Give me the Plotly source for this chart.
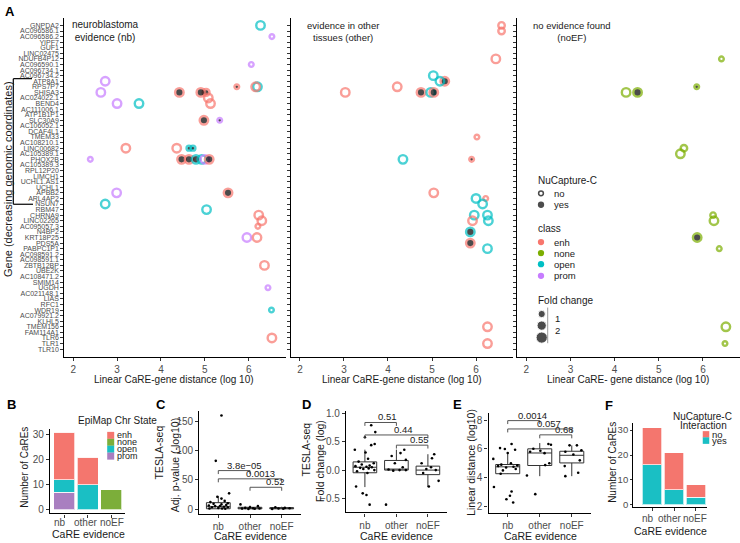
import plotly.graph_objects as go

W, H = 740, 543
FONT = "Liberation Sans, Arial, sans-serif"


def fx(p):
    return p / W


def fy(p):
    return 1 - p / H


# ---------------- data ----------------
GENES = ["GNPDA2", "AC096586.1", "AC096586.2", "YIPF7", "GUF1", "LINC02475", "NDUFB4P12",
         "AC096590.1", "AC096734.1", "AC096734.2", "ATP8A1", "RPS7P7", "SHISA3", "AC024022.1",
         "BEND4", "AC111006.1", "ATP1B1P1", "SLC30A9", "AC106052.1", "DCAF4L1", "TMEM33",
         "AC108210.1", "LINC00682", "AC105389.1", "PHOX2B", "AC105389.3", "RPL12P20", "LIMCH1",
         "UCHL1.AS1", "UCHL1", "APBB2", "ARL4AP2", "NSUN7", "RBM47", "CHRNA9", "LINC02265",
         "AC095057.3", "N4BP2", "KRT18P25", "PDS5A", "PABPC1P1", "AC098591.2", "AC098591.1",
         "ZBTB12BP", "UBE2K", "AC108471.2", "SMIM14", "UGDH", "AC021148.1", "LIAS", "RFC1",
         "WDR19", "AC079921.2", "KLHL5", "TMEM156", "FAM114A1", "TLR6", "TLR1", "TLR10"]

CLASSES = ["enh", "none", "open", "prom"]
CLASS_COLORS = {"enh": "#F8766D", "none": "#7CAE00", "open": "#00BFC4", "prom": "#C77CFF"}
BAR_COLORS = {"enh": "#F4766E", "none": "#7CAE3A", "open": "#1ABFC4", "prom": "#A97FC0"}

# neuroblastoma evidence (nb)
nb_gene = ["GNPDA2", "AC096586.2", "AC096590.1", "ATP8A1", "RPS7P7", "RPS7P7", "RPS7P7", "SHISA3",
           "SHISA3", "SHISA3", "SHISA3", "AC024022.1", "BEND4", "BEND4", "BEND4", "SLC30A9",
           "SLC30A9", "LINC00682", "LINC00682", "LINC00682", "LINC00682", "PHOX2B", "PHOX2B",
           "PHOX2B", "PHOX2B", "PHOX2B", "PHOX2B", "PHOX2B", "APBB2", "APBB2", "NSUN7", "RBM47",
           "CHRNA9", "LINC02265", "AC095057.3", "KRT18P25", "KRT18P25", "ZBTB12BP", "UGDH",
           "WDR19", "TLR6"]
nb_dist = [6.27, 6.53, 6.06, 2.73, 6.20, 6.16, 5.73, 2.63, 4.42, 5.03, 4.91, 5.08, 3.00, 3.50, 5.13,
           4.98, 5.34, 3.20, 4.36, 4.64, 4.73, 2.39, 4.47, 4.64, 4.80, 4.93, 5.00, 5.10, 2.99, 5.53,
           2.73, 5.04, 6.23, 6.30, 6.21, 5.96, 6.19, 6.36, 6.44, 6.52, 6.53]
nb_class = ["open", "prom", "prom", "prom", "open", "enh", "enh", "prom", "enh", "enh", "enh", "enh",
            "prom", "open", "enh", "enh", "prom", "enh", "enh", "open", "open", "prom", "enh", "enh",
            "open", "open", "prom", "enh", "prom", "enh", "open", "open", "enh", "enh", "enh", "prom",
            "enh", "enh", "prom", "open", "enh"]
nb_nuc = ["no", "no", "no", "no", "no", "no", "yes", "no", "yes", "yes", "yes", "no", "no", "no", "no",
          "yes", "yes", "no", "no", "yes", "yes", "no", "yes", "yes", "yes", "no", "no", "yes", "no",
          "yes", "no", "no", "no", "no", "no", "no", "no", "no", "no", "no", "no"]
nb_fc = [2.8, 0.9, 0.9, 2.8, 2.8, 2.8, 0.9, 2.8, 2.8, 2.0, 2.8, 2.8, 2.8, 2.8, 2.8, 2.8, 0.9, 2.8, 2.8,
         1.0, 1.0, 0.9, 2.8, 2.8, 2.8, 2.8, 2.8, 2.8, 2.8, 2.8, 2.8, 2.8, 2.8, 2.8, 0.9, 2.8, 2.8, 2.8,
         0.9, 0.9, 2.8]

# evidence in other tissues (other)
ot_gene = ["GNPDA2", "AC096586.1", "NDUFB4P12", "AC096734.2", "ATP8A1", "ATP8A1", "RPS7P7", "SHISA3",
           "SHISA3", "SHISA3", "SHISA3", "TMEM33", "PHOX2B", "PHOX2B", "APBB2", "ARL4AP2", "ARL4AP2",
           "NSUN7", "CHRNA9", "CHRNA9", "LINC02265", "LINC02265", "N4BP2", "PDS5A", "PABPC1P1",
           "TMEM156", "TLR1"]
ot_dist = [6.58, 6.58, 6.45, 5.03, 5.29, 5.18, 4.21, 3.03, 4.75, 4.97, 5.04, 6.02, 4.34, 5.90, 5.04,
           6.00, 6.22, 6.15, 5.96, 6.26, 5.92, 6.28, 5.87, 5.87, 6.26, 6.26, 6.26]
ot_class = ["enh", "enh", "enh", "open", "enh", "open", "enh", "enh", "enh", "open", "enh", "enh",
            "open", "enh", "enh", "open", "enh", "open", "open", "open", "enh", "open", "open", "enh",
            "open", "enh", "enh"]
ot_nuc = ["no", "no", "no", "no", "yes", "no", "no", "no", "yes", "no", "yes", "no", "no", "yes", "no",
          "no", "no", "no", "no", "no", "no", "no", "yes", "yes", "no", "no", "no"]
ot_fc = [1.8, 1.8, 2.8, 2.8, 2.8, 2.8, 2.8, 2.8, 2.8, 2.8, 2.8, 0.9, 2.8, 0.9, 2.8, 2.8, 0.9, 2.8, 2.8,
         2.8, 2.8, 2.8, 2.8, 2.8, 2.8, 2.8, 2.8]

# no evidence found (noEF)
ne_gene = ["NDUFB4P12", "RPS7P7", "SHISA3", "SHISA3", "LINC00682", "AC105389.1", "CHRNA9",
           "LINC02265", "KRT18P25", "PABPC1P1", "TMEM156", "TLR1"]
ne_dist = [6.42, 5.86, 4.26, 4.52, 5.57, 5.49, 6.23, 6.25, 5.87, 6.37, 6.52, 6.50]
ne_class = ["none"] * 12
ne_nuc = ["no", "yes", "no", "yes", "no", "no", "no", "no", "yes", "no", "no", "no"]
ne_fc = [0.9, 0.9, 2.8, 2.8, 1.8, 2.8, 1.3, 2.8, 2.8, 0.9, 2.8, 0.9]

EVIDENCE = ["nb", "other", "noEF"]

# B: EpiMap chromatin state counts
b_counts = {"prom": [7, 0, 0], "open": [5, 10, 0], "enh": [19, 11, 0], "none": [0, 0, 8]}

# C: TESLA-seq adj p-value (-log10)
c_q1 = [0.5, 0.4, 0.4]
c_med = [4.0, 1.5, 1.2]
c_q3 = [11.0, 3.0, 2.5]
c_lo = [0.0, 0.0, 0.0]
c_hi = [22.0, 6.0, 4.0]
c_pts_val = [[161, 83, 27, 21, 18, 14, 12, 10, 9, 8, 7, 6, 5, 5, 4, 3, 3, 2, 1, 1, 0.5],
             [8, 5, 3, 2, 1.5, 1, 0.8, 0.5, 0.3],
             [3, 2, 1.5, 1, 0.5, 0.3]]
c_pts_jit = [[0.1, -0.08, 0.34, -0.03, 0.1, 0.2, -0.25, 0.3, -0.15, 0.1, 0.25, -0.3, 0.05, -0.1, 0.18,
              0.3, -0.2, 0.0, 0.12, -0.28, 0.22],
             [-0.3, 0.25, 0.0, -0.15, 0.1, 0.3, -0.25, 0.15, -0.05],
             [-0.2, 0.1, 0.25, -0.1, 0.05, -0.3]]
c_sig = [(0, 1, 66.2, "3.8e\u221205"), (0, 2, 52.0, "0.0013"), (1, 2, 37.5, "0.52")]

# D: TESLA-seq fold change (log)
d_q1 = [-0.047, 0.0, -0.08]
d_med = [0.05, 0.01, 0.0]
d_q3 = [0.145, 0.17, 0.07]
d_lo = [-0.30, 0.0, -0.30]
d_hi = [0.36, 0.36, 0.28]
d_pts_val = [[0.79, 0.67, 0.58, 0.46, 0.44, 0.36, 0.31, 0.2, 0.15, 0.12, 0.1, 0.08, 0.07, 0.06, 0.05,
              0.04, 0.03, 0.02, 0.0, -0.02, -0.05, -0.29, -0.41, -0.44, -0.61],
             [0.36, 0.3, 0.25, 0.18, 0.12, 0.05, 0.01, 0.0, 0.0, -0.01, -0.61],
             [0.28, 0.21, 0.12, 0.05, 0.02, 0.0, -0.05, -0.19, -0.29]]
d_pts_jit = [[0.2, 0.33, 0.0, 0.31, 0.2, -0.32, 0.02, 0.1, -0.2, 0.28, -0.1, 0.15, -0.3, 0.05, 0.22,
              -0.15, 0.12, -0.05, 0.3, -0.25, 0.08, -0.28, -0.07, 0.05, 0.15],
             [0.25, 0.13, -0.15, 0.3, -0.05, 0.2, -0.25, 0.1, 0.3, -0.1, -0.33],
             [0.2, 0.13, -0.2, 0.1, -0.05, 0.25, -0.15, 0.34, 0.03]]
d_sig = [(0, 1, 0.84, "0.51"), (0, 2, 0.62, "0.44"), (1, 2, 0.44, "0.55")]

# E: linear distance (log10)
e_q1 = [4.27, 4.84, 5.02]
e_med = [4.75, 5.71, 5.55]
e_q3 = [4.91, 6.0, 5.83]
e_lo = [4.25, 4.1, 4.1]
e_hi = [5.71, 6.4, 6.24]
e_pts_val = [[6.33, 6.05, 5.99, 5.94, 5.71, 5.3, 5.0, 4.9, 4.85, 4.8, 4.75, 4.7, 4.6, 4.5, 4.27, 3.35,
              3.03, 2.74, 2.5, 2.27],
             [6.33, 6.28, 6.0, 5.87, 5.8, 5.7, 5.0, 4.87, 4.15, 2.85],
             [6.24, 6.24, 5.9, 5.8, 5.6, 5.2, 4.8, 4.34, 4.1]]
e_pts_jit = [[0.12, -0.24, -0.09, 0.23, 0.0, -0.45, 0.1, -0.2, 0.3, -0.3, 0.18, -0.05, 0.25, -0.15,
              -0.22, -0.43, 0.12, 0.07, -0.04, 0.17],
             [0.27, 0.35, -0.2, 0.02, -0.3, 0.15, 0.3, 0.17, -0.4, -0.14],
             [0.16, -0.07, 0.3, -0.2, 0.05, 0.25, -0.22, 0.2, -0.2]]
e_sig = [(0, 1, 7.96, "0.0014"), (0, 2, 7.38, "0.057"), (1, 2, 6.97, "0.68")]

# F: NuCapture-C interaction counts
f_no = [15, 15, 5]
f_yes = [16, 6, 3]

# ---------------- figure ----------------
fig = go.Figure()
ann = []
shapes = []


def text(x, y, s, size=10, color="#1a1a1a", xa="center", ya="middle", angle=0):
    ann.append(dict(x=fx(x), y=fy(y), xref="paper", yref="paper", text=s, showarrow=False,
                    xanchor=xa, yanchor=ya, textangle=angle,
                    font=dict(size=size, color=color, family=FONT)))


def diam(fc):
    return 5.3 + 2.0 * fc


def a_trace(genes, dist, cls, nuc, fc, xa, ya):
    ring = 2.4
    fig.add_trace(go.Scatter(
        x=dist, y=[GENES.index(g) for g in genes], mode="markers", xaxis=xa, yaxis=ya,
        marker=dict(symbol="circle", size=[diam(f) - ring for f in fc],
                    color=["black" if n == "yes" else "rgba(0,0,0,0)" for n in nuc],
                    line=dict(color=[CLASS_COLORS[c] for c in cls], width=ring)),
        hoverinfo="skip"))


layout_axes = {}
A_YRANGE = [59.42, -1.36]
A_XRANGE = [1.79, 6.84]
a_dom = [(64, 285.5), (290.7, 513), (517, 740)]
for i, (x0, x1) in enumerate(a_dom):
    n = i + 1
    xk = "xaxis" if n == 1 else f"xaxis{n}"
    yk = "yaxis" if n == 1 else f"yaxis{n}"
    layout_axes[xk] = dict(domain=[fx(x0), fx(x1)], range=A_XRANGE, anchor="y" if n == 1 else f"y{n}",
                           tickvals=[2, 3, 4, 5, 6], showline=True, linecolor="black", linewidth=1.4,
                           ticks="outside", ticklen=3, tickcolor="#333", tickwidth=1,
                           tickfont=dict(size=10, color="#4d4d4d", family=FONT),
                           showgrid=False, zeroline=False)
    layout_axes[yk] = dict(domain=[fy(358), fy(15)], range=A_YRANGE, anchor="x" if n == 1 else f"x{n}",
                           tickvals=list(range(len(GENES))), ticktext=GENES,
                           showticklabels=(n == 1), showline=True, linecolor="black", linewidth=1.4,
                           ticks="outside", ticklen=2.5, tickcolor="#333", tickwidth=1,
                           tickfont=dict(size=7, color="#4d4d4d", family=FONT),
                           showgrid=False, zeroline=False)

a_trace(nb_gene, nb_dist, nb_class, nb_nuc, nb_fc, "x", "y")
a_trace(ot_gene, ot_dist, ot_class, ot_nuc, ot_fc, "x2", "y2")
a_trace(ne_gene, ne_dist, ne_class, ne_nuc, ne_fc, "x3", "y3")

# panel A texts
text(105, 28.5, "neuroblastoma<br>evidence (nb)", size=10)
text(343, 28.5, "evidence in other<br>tissues (other)", size=9.5)
text(572, 28.5, "no evidence found<br>(noEF)", size=9.5)
text(174, 381, "Linear CaRE-gene distance (log 10)", size=10)
text(402, 381, "Linear CaRE-gene distance (log 10)", size=10)
text(628, 381, "Linear CaRE- gene distance (log 10)", size=10)
text(8, 178, "Gene (decreasing genomic coordinates)", size=11, angle=-90)
text(3, 9, "<b>A</b>", size=13, color="black", xa="left")
for (x0, y0, x1, y1) in [(13.3, 76.5, 13.3, 203.5), (13.3, 76.5, 32, 76.5), (13.3, 203.5, 33, 203.5)]:
    shapes.append(dict(type="line", xref="paper", yref="paper", x0=fx(x0), y0=fy(y0), x1=fx(x1),
                       y1=fy(y1), line=dict(color="black", width=1.2)))

# legend glyphs (overlay axis in pixel space, transparent background)
layout_axes["xaxis9"] = dict(domain=[0, 1], range=[0, W], visible=False, anchor="y9", fixedrange=True)
layout_axes["yaxis9"] = dict(domain=[0, 1], range=[H, 0], visible=False, anchor="x9", fixedrange=True)
text(536, 179, "NuCapture-C", size=10, xa="left")
fig.add_trace(go.Scatter(x=[541, 541], y=[192.5, 204], mode="markers", xaxis="x9", yaxis="y9",
                         marker=dict(size=[4.8, 6.3], color=["rgba(0,0,0,0)", "black"],
                                     line=dict(color="black", width=[1.5, 0])), hoverinfo="skip"))
text(551.5, 192.5, "no", size=9.5, xa="left")
text(551.5, 204, "yes", size=9.5, xa="left")
text(536, 228.5, "class", size=10, xa="left")
leg_y = [241.7, 252.9, 264.1, 275.9]
fig.add_trace(go.Scatter(x=[541] * 4, y=leg_y, mode="markers", xaxis="x9", yaxis="y9",
                         marker=dict(size=6.3, color=[CLASS_COLORS[c] for c in CLASSES]),
                         hoverinfo="skip"))
for c, yy in zip(CLASSES, leg_y):
    text(551.5, yy, c, size=9.5, xa="left")
text(536, 300.5, "Fold change", size=10, xa="left")
shapes.append(dict(type="line", xref="paper", yref="paper", x0=fx(547.7), x1=fx(547.7), y0=fy(308),
                   y1=fy(344), line=dict(color="#555", width=0.6)))
fig.add_trace(go.Scatter(x=[541.7] * 3, y=[314.5, 326.2, 338.3], mode="markers", xaxis="x9", yaxis="y9",
                         marker=dict(size=[diam(1), diam(2), diam(3)], color="black"), hoverinfo="skip"))
text(552.5, 319.5, "1", size=9.5, xa="left")
text(552.5, 331.5, "2", size=9.5, xa="left")


# ---------------- bottom panels ----------------
def bottom_axes(n, xdom, ydom, yrange, ytickvals, yticktext=None, xrange=(-0.6, 2.6),
                xlabels=True, yfont=10, yticklen=3):
    layout_axes[f"xaxis{n}"] = dict(domain=[fx(xdom[0]), fx(xdom[1])], range=list(xrange),
                                    anchor=f"y{n}", tickvals=[0, 1, 2], ticktext=EVIDENCE,
                                    showticklabels=xlabels,
                                    tickangle=0, showline=True, linecolor="black", linewidth=1.4,
                                    ticks="outside", ticklen=3, tickcolor="#333",
                                    tickfont=dict(size=10, color="#4d4d4d", family=FONT),
                                    showgrid=False, zeroline=False)
    yd = dict(domain=[fy(ydom[1]), fy(ydom[0])], range=list(yrange), anchor=f"x{n}",
              tickvals=ytickvals, showline=True, linecolor="black", linewidth=1.4, ticks="outside",
              ticklen=yticklen, tickcolor="#333", tickfont=dict(size=yfont, color="#4d4d4d", family=FONT),
              showgrid=False, zeroline=False)
    if yticktext is not None:
        yd["ticktext"] = yticktext
    layout_axes[f"yaxis{n}"] = yd


# B
bottom_axes(4, (50, 125.3), (430.3, 516.2), (-1.55, 32.55), [0, 10, 20, 30], xlabels=False)
for c in ["prom", "open", "enh", "none"]:
    fig.add_trace(go.Bar(x=[0, 1, 2], y=b_counts[c], xaxis="x4", yaxis="y4", width=0.9,
                         marker=dict(color=BAR_COLORS[c], line=dict(color="rgba(255,255,255,0.7)",
                                                                      width=1)),
                         hoverinfo="skip"))
for lab, xx in zip(EVIDENCE, [60, 85, 112]):
    text(xx, 525.5, lab, size=10, color="#4d4d4d")
text(5, 405.5, "<b>B</b>", size=13, color="black", xa="left")
text(25, 470, "Number of CaREs", size=10, angle=-90)
text(88, 537, "CaRE evidence", size=10.5)
text(117, 422.3, "EpiMap Chr State", size=10)
bl_y = [437.2, 444.2, 451.2, 458.2]
fig.add_trace(go.Scatter(x=[110.7] * 4, y=bl_y, mode="markers", xaxis="x9", yaxis="y9",
                         marker=dict(symbol="square", size=7,
                                     color=[BAR_COLORS[c] for c in CLASSES]), hoverinfo="skip"))
for c, yy in zip(CLASSES, bl_y):
    text(115, yy, c, size=9, xa="left")


def box_panel(n, q1, med, q3, lo, hi, vals, jits, sig, tick_len, text_shift):
    fig.add_trace(go.Box(x=[0, 1, 2], q1=q1, median=med, q3=q3, lowerfence=lo, upperfence=hi,
                         xaxis=f"x{n}", yaxis=f"y{n}", width=0.75, whiskerwidth=0,
                         fillcolor="white", line=dict(color="#333", width=1), boxpoints=False,
                         hoverinfo="skip"))
    xs, ys = [], []
    for g in range(3):
        xs += [g + j for j in jits[g]]
        ys += vals[g]
    fig.add_trace(go.Scatter(x=xs, y=ys, mode="markers", xaxis=f"x{n}", yaxis=f"y{n}",
                             marker=dict(size=2.6, color="black"), hoverinfo="skip"))
    for (g0, g1, h, lab) in sig:
        shapes.append(dict(type="path", xref=f"x{n}", yref=f"y{n}",
                           path=f"M {g0} {h - tick_len} L {g0} {h} L {g1} {h} L {g1} {h - tick_len}",
                           line=dict(color="#555", width=1)))
        ann.append(dict(x=(g0 + g1) / 2, y=h, xref=f"x{n}", yref=f"y{n}", text=lab, showarrow=False,
                        xanchor="center", yanchor="bottom", xshift=text_shift, yshift=-2,
                        font=dict(size=9.5, color="#1a1a1a", family=FONT)))


# C
bottom_axes(5, (199.3, 300.7), (413, 516.7), (-8.5, 168), [0, 50, 100, 150])
box_panel(5, c_q1, c_med, c_q3, c_lo, c_hi, c_pts_val, c_pts_jit, c_sig, 6, 10)
text(161, 406, "<b>C</b>", size=13, color="black")
text(158.5, 455, "TESLA-seq", size=10.5, angle=-90)
text(174.5, 467, "Adj. p-value (-log10)", size=10.5, angle=-90)
text(250, 538.5, "CaRE evidence", size=10.5)

# D
bottom_axes(6, (346, 446.8), (413, 515), (-0.745, 1.035), [-0.5, 0, 0.5, 1.0],
            ["\u22120.5", "0.0", "0.5", "1.0"])
box_panel(6, d_q1, d_med, d_q3, d_lo, d_hi, d_pts_val, d_pts_jit, d_sig, 0.06, 7)
text(306, 406, "<b>D</b>", size=13, color="black")
text(306.5, 452, "TESLA-seq", size=10.5, angle=-90)
text(320, 463, "Fold change (log)", size=10.5, angle=-90)
text(396, 538.5, "CaRE evidence", size=10.5)

# E
bottom_axes(7, (488.5, 591), (415, 516), (1.52, 8.46), [2, 4, 6, 8])
box_panel(7, e_q1, e_med, e_q3, e_lo, e_hi, e_pts_val, e_pts_jit, e_sig, 0.24, 9)
text(457, 406, "<b>E</b>", size=13, color="black")
text(471, 465, "Linear distance (log10)", size=10.5, angle=-90)
text(540, 538.5, "CaRE evidence", size=10.5)

# F
bottom_axes(8, (633.3, 706.7), (424.9, 509.6), (-0.9, 32.8), [0, 10, 20, 30], xrange=(-0.86, 2.49),
            xlabels=False, yfont=9.5, yticklen=2)
fig.add_trace(go.Bar(x=[0, 1, 2], y=f_yes, xaxis="x8", yaxis="y8", width=0.9,
                     marker=dict(color=BAR_COLORS["open"], line=dict(color="rgba(255,255,255,0.7)", width=1)),
                     hoverinfo="skip"))
fig.add_trace(go.Bar(x=[0, 1, 2], y=f_no, xaxis="x8", yaxis="y8", width=0.9,
                     marker=dict(color=BAR_COLORS["enh"], line=dict(color="rgba(255,255,255,0.7)", width=1)),
                     hoverinfo="skip"))
for lab, xx in zip(EVIDENCE, [648, 669, 695]):
    text(xx, 521.5, lab, size=10, color="#4d4d4d")
text(609, 407, "<b>F</b>", size=13, color="black")
text(613, 465, "Number of CaREs", size=10, angle=-90)
text(670, 534, "CaRE evidence", size=10.5)
text(702, 418.5, "NuCapture-C", size=10)
text(703, 427.2, "Interaction", size=10)
fig.add_trace(go.Scatter(x=[706, 706], y=[436.2, 442.5], mode="markers", xaxis="x9", yaxis="y9",
                         marker=dict(symbol="square", size=6.5,
                                     color=[BAR_COLORS["enh"], BAR_COLORS["open"]]), hoverinfo="skip"))
text(710, 436.4, "no", size=9.5, xa="left")
text(710, 442.8, "yes", size=9.5, xa="left")

fig.update_layout(width=W, height=H, margin=dict(l=0, r=0, t=0, b=0), showlegend=False,
                  paper_bgcolor="white", plot_bgcolor="rgba(0,0,0,0)", barmode="stack",
                  font=dict(family=FONT), annotations=ann, shapes=shapes, **layout_axes)

fig.write_html("out.html")
